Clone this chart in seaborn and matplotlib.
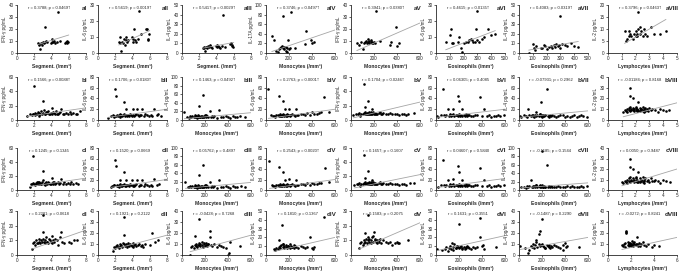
import matplotlib
matplotlib.use("Agg")
import matplotlib.pyplot as plt
import seaborn as sns
import numpy as np

sns.set_style("ticks")
plt.rcParams['font.family'] = ['Liberation Sans', 'DejaVu Sans']

# ---------------- row a ----------------
seg_a = [2.4, 2.5, 2.6, 2.7, 2.8, 2.9, 3.0, 3.1, 3.2, 3.3, 3.4, 3.5, 3.9, 4.0, 4.1, 4.2, 4.3, 4.4, 4.6, 4.7, 5.0, 5.6, 5.7, 5.8, 5.8, 5.9]
mono_a = [50, 70, 90, 100, 110, 120, 130, 140, 145, 150, 155, 160, 170, 175, 180, 185, 190, 200, 210, 220, 250, 340, 350, 390, 400, 420]
eos_a = [70, 100, 110, 115, 120, 160, 170, 180, 185, 200, 220, 230, 240, 250, 260, 270, 280, 290, 295, 300, 310, 330, 350, 380, 400, 430]
lym_a = [1.2, 1.3, 1.4, 1.5, 1.6, 1.7, 1.8, 1.9, 2.0, 2.0, 2.1, 2.1, 2.2, 2.2, 2.3, 2.3, 2.4, 2.5, 2.6, 2.7, 3.1, 3.3, 3.8, 4.2, 1.5, 2.8]
aI = [8, 7, 7.5, 3, 8, 7, 9, 8, 9, 22, 10, 9, 8, 12, 9, 9, 10, 8, 9, 34, 10, 8, 9, 10, 8, 9]
aII = [7, 10, 6, 1, 7, 6, 9, 5, 8, 10, 7, 8, 10, 9, 7, 15, 8, 7, 9, 26, 12, 15, 15, 9, 8, 12]
aIII = [5, 6, 5, 2, 6, 5, 7, 6, 8, 7, 6, 5, 7, 8, 6, 7, 6, 5, 7, 40, 6, 9, 10, 7, 8, 6]
aIV = [35, 28, 5, 2, 8, 10, 12, 15, 10, 78, 12, 8, 5, 12, 10, 3, 28, 8, 10, 85, 10, 18, 45, 28, 20, 22]
aV = [8, 7, 9, 3, 8, 9, 10, 8, 9, 12, 10, 8, 9, 11, 8, 9, 8, 9, 8, 35, 10, 7, 9, 22, 6, 8]
aVI = [7, 11, 15, 6, 6, 7, 10, 3, 0.5, 6, 7, 7, 8, 9, 8, 7, 7, 15, 26, 8, 7, 9, 10, 15, 11, 12]
aVII = [0, 9, 5, 3, 7, 5, 5, 8, 7, 4, 6, 7, 5, 8, 6, 9, 7, 8, 5, 39, 9, 8, 7, 10, 7, 6]
aVIII = [9, 5, 6, 9, 8, 7, 6, 8, 7, 9, 8, 7, 10, 17, 8, 11, 9, 7, 10, 8, 11, 8, 8, 9, 7, 7]

# ---------------- row b ----------------
seg_b = [1.2, 1.5, 1.7, 1.8, 1.9, 2.0, 2.1, 2.1, 2.2, 2.3, 2.4, 2.5, 2.6, 2.7, 2.8, 2.9, 3.0, 3.0, 3.1, 3.2, 3.3, 3.4, 3.5, 3.6, 3.7, 3.8, 3.9, 4.0, 4.1, 4.2, 4.3, 4.4, 4.5, 4.7, 4.9, 5.0, 5.1, 5.3, 5.5, 5.7, 5.9, 6.1, 6.3, 6.5, 6.8, 7.0, 7.3, 2.6, 3.5, 4.6]
mono_b = [20, 40, 60, 70, 80, 90, 100, 110, 115, 120, 120, 125, 130, 135, 140, 145, 150, 150, 155, 160, 165, 170, 175, 180, 185, 190, 195, 200, 210, 220, 230, 240, 250, 260, 270, 280, 300, 320, 340, 360, 380, 400, 420, 440, 460, 480, 500, 550, 210, 170]
eos_b = [10, 20, 40, 60, 70, 80, 90, 100, 110, 120, 130, 140, 150, 160, 170, 180, 190, 195, 200, 200, 205, 210, 220, 230, 240, 250, 260, 270, 280, 290, 300, 320, 340, 360, 380, 400, 420, 440, 460, 480, 500, 520, 540, 560, 590, 150, 180, 230, 260, 120]
lym_b = [1.1, 1.2, 1.3, 1.4, 1.4, 1.5, 1.5, 1.6, 1.6, 1.6, 1.7, 1.7, 1.8, 1.8, 1.9, 1.9, 2.0, 2.0, 2.1, 2.1, 2.2, 2.2, 2.3, 2.3, 2.4, 2.4, 2.5, 2.5, 2.6, 2.6, 2.7, 2.7, 2.8, 2.8, 2.9, 3.0, 3.1, 3.2, 3.4, 3.6, 3.8, 4.0, 4.2, 4.4, 1.6, 2.0, 2.4, 1.8, 2.2, 2.6]
bI = [5, 8, 7, 9, 8, 47, 10, 7, 9, 8, 11, 9, 10, 8, 12, 9, 27, 10, 14, 8, 9, 11, 10, 12, 9, 8, 10, 17, 9, 11, 10, 8, 12, 9, 10, 11, 16, 9, 8, 10, 9, 11, 8, 10, 9, 8, 12, 6, 11, 9]
bII = [4, 7, 9, 6, 8, 57, 45, 8, 10, 7, 9, 12, 8, 10, 7, 9, 34, 11, 8, 20, 9, 7, 10, 8, 12, 9, 7, 21, 10, 8, 9, 11, 20, 8, 10, 9, 20, 8, 11, 9, 7, 10, 8, 21, 9, 12, 8, 6, 10, 9]
bIII = [18, 8, 5, 10, 7, 9, 6, 8, 12, 10, 7, 9, 5, 8, 11, 32, 7, 9, 6, 8, 10, 7, 9, 58, 8, 6, 10, 12, 7, 9, 8, 20, 6, 9, 7, 10, 5, 24, 8, 6, 9, 7, 5, 10, 8, 6, 9, 7, 11, 8]
bIV = [57, 9, 7, 8, 6, 10, 9, 7, 45, 8, 11, 9, 7, 10, 8, 35, 9, 12, 8, 10, 20, 9, 7, 11, 8, 10, 9, 20, 8, 10, 12, 9, 8, 20, 10, 9, 11, 12, 9, 13, 10, 14, 11, 12, 13, 14, 42, 15, 9, 10]
bV = [7, 9, 8, 10, 6, 9, 8, 10, 50, 18, 9, 11, 8, 10, 9, 27, 8, 10, 9, 11, 8, 10, 9, 15, 8, 10, 11, 9, 10, 8, 9, 10, 11, 9, 8, 10, 9, 8, 10, 9, 8, 9, 7, 8, 9, 7, 8, 10, 9, 11]
bVI = [8, 6, 9, 57, 10, 7, 9, 20, 8, 10, 7, 9, 21, 8, 10, 9, 7, 45, 35, 11, 9, 8, 10, 20, 9, 7, 11, 8, 10, 9, 7, 8, 10, 9, 42, 8, 20, 7, 9, 6, 8, 7, 9, 8, 10, 12, 9, 8, 10, 11]
bVII = [7, 5, 9, 8, 6, 20, 10, 7, 9, 8, 6, 10, 7, 9, 8, 11, 7, 33, 9, 6, 10, 8, 7, 9, 58, 8, 6, 10, 7, 9, 8, 6, 7, 9, 10, 6, 8, 5, 7, 9, 6, 8, 10, 7, 6, 15, 12, 9, 8, 10]
bVIII = [7, 9, 8, 10, 7, 9, 11, 30, 22, 8, 10, 9, 20, 11, 8, 10, 9, 12, 8, 10, 17, 9, 11, 8, 10, 9, 12, 8, 10, 9, 11, 8, 9, 10, 8, 11, 9, 10, 9, 7, 10, 9, 8, 9, 12, 11, 10, 9, 8, 7]

# ---------------- row c ----------------
seg_c = [1.5, 1.6, 1.7, 1.8, 1.9, 2.0, 2.1, 2.2, 2.2, 2.3, 2.4, 2.5, 2.6, 2.7, 2.8, 2.9, 3.0, 3.0, 3.1, 3.2, 3.3, 3.4, 3.5, 3.6, 3.7, 3.8, 3.9, 4.0, 4.1, 4.2, 4.3, 4.4, 4.5, 4.7, 4.9, 5.0, 5.1, 5.3, 5.5, 5.7, 5.9, 6.1, 6.3, 6.5, 6.8, 7.1, 2.4, 3.3, 4.2, 2.8]
mono_c = [30, 50, 60, 70, 80, 90, 100, 110, 115, 120, 120, 125, 130, 135, 140, 145, 150, 150, 155, 160, 165, 170, 175, 180, 185, 190, 195, 200, 210, 220, 230, 240, 250, 260, 270, 280, 300, 320, 340, 360, 380, 400, 420, 440, 460, 480, 510, 550, 210, 170]
eos_c = [20, 40, 60, 70, 80, 90, 100, 110, 120, 130, 140, 150, 160, 170, 180, 190, 195, 200, 200, 205, 210, 220, 230, 240, 250, 260, 270, 280, 290, 300, 320, 340, 360, 380, 400, 420, 440, 460, 480, 500, 520, 540, 560, 590, 150, 180, 230, 260, 120, 210]
lym_c = [1.0, 1.1, 1.2, 1.3, 1.4, 1.4, 1.5, 1.5, 1.6, 1.6, 1.6, 1.7, 1.7, 1.8, 1.8, 1.9, 1.9, 2.0, 2.0, 2.1, 2.1, 2.2, 2.2, 2.3, 2.3, 2.4, 2.4, 2.5, 2.5, 2.6, 2.6, 2.7, 2.8, 2.9, 3.0, 3.1, 3.2, 3.4, 3.6, 3.8, 4.0, 4.2, 4.5, 1.6, 2.0, 2.4, 1.8, 2.2, 2.6, 3.3]
cI = [4, 9, 8, 10, 48, 9, 7, 10, 8, 11, 9, 12, 8, 10, 9, 11, 27, 14, 9, 10, 8, 11, 9, 12, 10, 8, 9, 17, 10, 8, 11, 9, 10, 12, 8, 10, 16, 9, 11, 8, 10, 9, 11, 8, 10, 9, 12, 7, 11, 8]
cII = [5, 8, 7, 10, 9, 57, 45, 8, 10, 7, 9, 12, 20, 8, 10, 9, 34, 11, 8, 20, 7, 9, 10, 8, 12, 9, 20, 7, 10, 8, 9, 11, 20, 8, 10, 9, 20, 8, 11, 9, 7, 10, 8, 21, 9, 12, 6, 10, 9, 8]
cIII = [20, 8, 6, 10, 7, 9, 6, 8, 12, 10, 7, 9, 5, 8, 11, 35, 7, 9, 6, 8, 10, 7, 9, 60, 8, 6, 10, 12, 7, 9, 8, 20, 6, 9, 7, 10, 5, 25, 8, 6, 9, 7, 5, 10, 8, 6, 9, 7, 11, 8]
cIV = [55, 9, 7, 8, 6, 10, 9, 7, 44, 8, 11, 9, 7, 10, 8, 34, 9, 12, 8, 10, 20, 9, 7, 11, 8, 10, 9, 21, 8, 10, 12, 9, 8, 20, 10, 9, 11, 12, 9, 13, 10, 14, 11, 12, 13, 14, 41, 15, 9, 10]
cV = [7, 9, 8, 10, 6, 9, 8, 10, 50, 17, 9, 11, 8, 10, 9, 27, 8, 10, 9, 11, 8, 10, 9, 15, 8, 10, 11, 9, 10, 8, 9, 10, 11, 9, 8, 10, 9, 8, 10, 9, 8, 9, 7, 8, 9, 7, 10, 10, 9, 11]
cVI = [6, 9, 57, 10, 7, 9, 20, 8, 10, 7, 9, 21, 8, 10, 9, 7, 45, 35, 11, 9, 8, 10, 20, 9, 7, 11, 8, 10, 9, 7, 8, 10, 9, 42, 8, 20, 7, 9, 6, 8, 7, 9, 8, 10, 12, 9, 8, 10, 11, 9]
cVII = [6, 8, 5, 9, 7, 10, 25, 8, 6, 9, 7, 11, 8, 10, 7, 6, 9, 93, 12, 8, 7, 9, 6, 60, 8, 10, 7, 9, 6, 8, 7, 9, 6, 8, 7, 10, 6, 9, 7, 8, 6, 9, 7, 10, 11, 12, 8, 9, 10, 7]
cVIII = [8, 7, 9, 8, 10, 7, 9, 11, 30, 22, 8, 10, 9, 20, 11, 8, 10, 9, 12, 8, 10, 17, 9, 11, 8, 10, 9, 12, 8, 10, 9, 11, 9, 10, 8, 11, 9, 10, 9, 7, 10, 9, 8, 12, 11, 10, 9, 8, 7, 9]

# ---------------- row d ----------------
seg_d = [1.7, 1.9, 2.0, 2.1, 2.2, 2.3, 2.5, 2.6, 2.7, 2.8, 2.9, 3.0, 3.0, 3.0, 3.1, 3.2, 3.3, 3.4, 3.5, 3.6, 3.7, 3.8, 3.9, 4.0, 4.1, 4.2, 4.3, 4.4, 4.6, 4.8, 5.0, 5.1, 5.2, 5.5, 6.0, 6.3, 6.6, 7.0, 3.5, 2.4]
mono_d = [70, 80, 90, 100, 110, 115, 120, 125, 130, 140, 145, 150, 155, 160, 170, 175, 180, 190, 200, 205, 210, 220, 230, 240, 240, 250, 260, 280, 300, 320, 340, 360, 380, 400, 410, 420, 500, 150, 190, 230]
eos_d = [10, 50, 80, 90, 100, 110, 120, 130, 140, 150, 160, 170, 180, 190, 200, 200, 210, 220, 230, 240, 250, 260, 270, 280, 290, 300, 320, 340, 360, 380, 385, 400, 410, 420, 520, 150, 170, 230, 180, 260]
lym_d = [1.2, 1.3, 1.4, 1.5, 1.5, 1.6, 1.6, 1.7, 1.7, 1.8, 1.8, 1.9, 1.9, 2.0, 2.0, 2.1, 2.1, 2.2, 2.2, 2.3, 2.3, 2.4, 2.5, 2.5, 2.6, 2.7, 2.8, 2.9, 3.0, 3.1, 3.3, 3.5, 3.8, 4.0, 4.4, 1.6, 2.0, 2.4, 1.8, 2.6]
dI = [4, 8, 9, 7, 10, 8, 9, 11, 8, 10, 9, 27, 16, 11, 9, 8, 10, 12, 9, 8, 11, 10, 9, 13, 8, 10, 9, 11, 10, 7, 12, 16, 9, 8, 9, 8, 10, 10, 9, 8]
dII = [4, 7, 6, 8, 9, 7, 10, 8, 9, 7, 11, 35, 18, 10, 8, 9, 10, 7, 9, 8, 10, 9, 8, 11, 7, 9, 10, 8, 9, 10, 8, 9, 7, 10, 9, 20, 12, 14, 11, 6]
dIII = [0, 7, 8, 6, 9, 17, 8, 10, 7, 9, 11, 33, 8, 10, 9, 12, 7, 10, 8, 9, 11, 8, 10, 22, 16, 9, 8, 10, 7, 9, 8, 7, 6, 0, 2, 12, 8, 9, 11, 10]
dIV = [7, 6, 8, 7, 17, 9, 10, 8, 11, 34, 9, 12, 8, 10, 9, 11, 8, 10, 9, 12, 8, 10, 9, 11, 8, 10, 9, 8, 10, 9, 8, 9, 20, 8, 7, 9, 43, 12, 10, 9]
dV = [5, 8, 9, 7, 10, 8, 15, 9, 11, 8, 10, 27, 9, 11, 8, 10, 12, 9, 16, 10, 11, 9, 8, 10, 9, 11, 8, 10, 9, 8, 9, 7, 8, 9, 8, 8, 10, 12, 13, 10]
dVI = [7, 6, 7, 9, 5, 8, 10, 7, 14, 9, 12, 8, 10, 9, 35, 8, 9, 10, 8, 9, 7, 8, 10, 9, 8, 7, 9, 8, 9, 42, 20, 10, 11, 7, 9, 6, 8, 7, 10, 9]
dVII = [8, 6, 2, 5, 8, 7, 10, 6, 9, 14, 7, 19, 22, 9, 33, 10, 8, 7, 6, 9, 8, 7, 6, 8, 7, 9, 8, 7, 6, 5, 9, 11, 7, 8, 7, 12, 10, 6, 8, 9]
dVIII = [9, 8, 10, 7, 11, 22, 20, 9, 12, 8, 10, 9, 11, 8, 10, 13, 9, 11, 8, 10, 12, 9, 10, 16, 9, 11, 8, 10, 12, 9, 8, 10, 7, 9, 8, 21, 9, 10, 11, 8]

# fitted lines: y at first point, y at line end, x of line end
fits = {
    "aI": (7, 15, 6), "aII": (5, 14, 6), "aIII": (5, 11, 6), "aIV": (3, 48, 600),
    "aV": (2, 25, 600), "aVI": (2, 14, 430), "aVII": (3, 12, 430), "aVIII": (4, 14, 4.2),
    "bI": (5, 17, 8), "bII": (5, 20, 8), "bIII": (3, 17, 600), "bIV": (3, 20, 600),
    "bV": (3, 25, 600), "bVI": (5, 20, 600), "bVII": (5, 17, 600), "bVIII": (3, 16, 5),
    "cI": (5, 17, 8), "cII": (5, 20, 8), "cIII": (4, 18, 600), "cIV": (3, 20, 600),
    "cV": (3, 22, 600), "cVI": (5, 22, 600), "cVII": (5, 17, 600), "cVIII": (4, 20, 5),
    "dI": (4, 17, 8), "dII": (5, 18, 8), "dIII": (3, 18, 600), "dIV": (4, 20, 600),
    "dV": (4, 22, 600), "dVI": (5, 22, 600), "dVII": (5, 16, 600), "dVIII": (5, 16, 6),
}

stats = {
    "aI": "r = 0.3788; p = 0.0469†", "aII": "r = 0.5619; p = 0.0019†",
    "aIII": "r = 0.5417; p = 0.0029†", "aIV": "r = 0.3746; p = 0.0497†",
    "aV": "r = 0.3941; p = 0.0380†", "aVI": "r = 0.4615; p = 0.0135†",
    "aVII": "r = 0.4083; p = 0.0319†", "aVIII": "r = 0.3796; p = 0.0463†",
    "bI": "r = 0.1566; p = 0.0088†", "bII": "r = 0.1706; p = 0.0180†",
    "bIII": "r = 0.1463; p = 0.0492†", "bIV": "r = 0.2763; p = 0.0001†",
    "bV": "r = 0.1704; p = 0.0246†", "bVI": "r = 0.06305; p = 0.4085",
    "bVII": "r = -0.07931; p = 0.2962", "bVIII": "r = -0.01184; p = 0.8168",
    "cI": "r = 0.1245; p = 0.1345", "cII": "r = 0.1520; p = 0.0669",
    "cIII": "r = 0.05762; p = 0.4897", "cIV": "r = 0.2543; p = 0.0020†",
    "cV": "r = 0.1657; p = 0.1607", "cVI": "r = 0.04607; p = 0.5840",
    "cVII": "r = -0.1185; p = 0.1544", "cVIII": "r = 0.0050; p = 0.9487",
    "dI": "r = 0.2281; p = 0.0618", "dII": "r = 0.1921; p = 0.2122",
    "dIII": "r = -0.0428; p = 0.7268", "dIV": "r = 0.1810; p = 0.1367",
    "dV": "r = 0.1583; p = 0.2075", "dVI": "r = 0.1631; p = 0.3551",
    "dVII": "r = -0.1487; p = 0.2290", "dVIII": "r = -0.0272; p = 0.8241",
}

SEG = ("Segment. (/mm³)", 8, 2)
MONO = ("Monocytes (/mm³)", 600, 200)
EOS5 = ("Eosinophils (/mm³)", 500, 100)
EOS6 = ("Eosinophils (/mm³)", 600, 200)
LYM5 = ("Lymphocytes (/mm³)", 5, 1)
LYM6 = ("Lymphocytes (/mm³)", 6, 2)
IFN, IL6, IL4, IL17, IL2 = "IFN-γ pg/mL", "IL-6 pg/mL", "IL-4 pg/mL", "IL-17A pg/mL", "IL-2 pg/mL"

rows = [
    ("a", [(seg_a, aI, SEG, IFN, 40, 10), (seg_a, aII, SEG, IL6, 30, 10), (seg_a, aIII, SEG, IL4, 50, 10),
           (mono_a, aIV, MONO, IL17, 100, 20), (mono_a, aV, MONO, IFN, 40, 10), (eos_a, aVI, EOS5, IL6, 30, 10),
           (eos_a, aVII, EOS5, IL4, 50, 10), (lym_a, aVIII, LYM5, IL2, 20, 5)]),
    ("b", [(seg_b, bI, SEG, IFN, 60, 20), (seg_b, bII, SEG, IL6, 80, 20), (mono_b, bIII, MONO, IL4, 100, 20),
           (mono_b, bIV, MONO, IL6, 80, 20), (mono_b, bV, MONO, IFN, 60, 20), (eos_b, bVI, EOS6, IL6, 80, 20),
           (eos_b, bVII, EOS6, IL4, 80, 20), (lym_b, bVIII, LYM5, IL2, 40, 10)]),
    ("c", [(seg_c, cI, SEG, IFN, 60, 20), (seg_c, cII, SEG, IL6, 80, 20), (mono_c, cIII, MONO, IL4, 100, 20),
           (mono_c, cIV, MONO, IL6, 80, 20), (mono_c, cV, MONO, IFN, 60, 20), (eos_c, cVI, EOS6, IL6, 80, 20),
           (eos_c, cVII, EOS6, IL4, 100, 20), (lym_c, cVIII, LYM5, IL2, 40, 10)]),
    ("d", [(seg_d, dI, SEG, IFN, 30, 10), (seg_d, dII, SEG, IL6, 40, 10), (mono_d, dIII, MONO, IL6, 40, 10),
           (mono_d, dIV, MONO, IL6, 50, 10), (mono_d, dV, MONO, IFN, 30, 10), (eos_d, dVI, EOS6, IL6, 50, 10),
           (eos_d, dVII, EOS6, IL4, 40, 10), (lym_d, dVIII, LYM6, IL6, 40, 10)]),
]
numerals = ["I", "II", "III", "IV", "V", "VI", "VII", "VIII"]

W, H = 685, 275
fig = plt.figure(figsize=(W / 100, H / 100), dpi=100)
lefts = [17, 98, 182, 266, 351, 436, 519, 608]
tops = [5, 77, 148, 211]
bottoms = [53, 120, 190, 255]

for r, (letter, panels) in enumerate(rows):
    for c, (xv, yv, xinfo, ylab, ymax, ystep) in enumerate(panels):
        key = letter + numerals[c]
        ax = fig.add_axes([lefts[c] / W, 1 - bottoms[r] / H, 69 / W, (bottoms[r] - tops[r]) / H])
        n = min(len(xv), len(yv))
        x = np.array(xv[:n], dtype=float)
        y = np.array(yv[:n], dtype=float)
        sns.scatterplot(x=x, y=y, ax=ax, color="black", s=3.5, linewidth=0, marker="o")
        y0, y1, xend = fits[key]
        sns.lineplot(x=[x.min(), xend], y=[y0, y1], ax=ax, color="#a5a5a5", linewidth=0.6)
        xlab, xmax, xstep = xinfo
        ax.set_xlim(0, xmax)
        ax.set_ylim(0, ymax)
        ax.set_xticks(np.arange(0, xmax + 0.001, xstep))
        ax.set_yticks(np.arange(0, ymax + 0.001, ystep))
        ax.tick_params(labelsize=3.3, length=1.5, width=0.5, pad=1)
        for s in ("left", "bottom"):
            ax.spines[s].set_linewidth(0.6)
        sns.despine(ax=ax)
        ax.set_xlabel(xlab, fontsize=3.6, labelpad=1.5, fontweight="bold")
        ax.set_ylabel(ylab, fontsize=3.3, labelpad=0.8)
        ax.text(0.46, 0.93, stats[key], transform=ax.transAxes, fontsize=3.0,
                ha="center", va="center")
        ax.text(1.02, 0.93, key, transform=ax.transAxes, fontsize=4.6,
                ha="right", va="center", fontweight="bold")

fig.savefig("out.png", dpi=100)
